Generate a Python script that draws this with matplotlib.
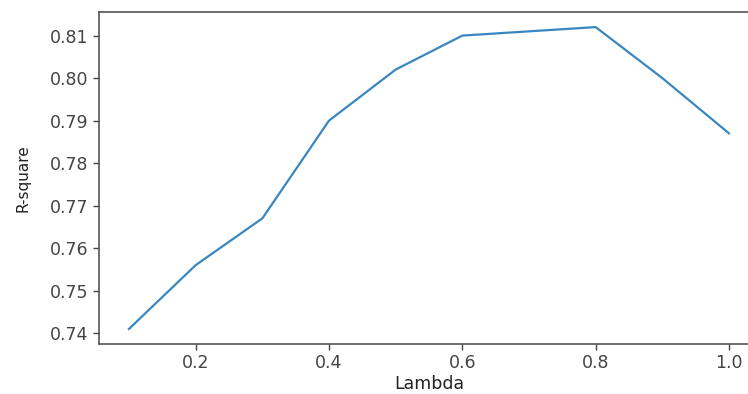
import matplotlib
matplotlib.use("Agg")
import matplotlib.pyplot as plt

lambdas = [0.1, 0.2, 0.3, 0.4, 0.5, 0.6, 0.7, 0.8, 0.9, 1.0]
r_square = [0.741, 0.756, 0.767, 0.790, 0.802, 0.810, 0.811, 0.812, 0.800, 0.787]
x_ticks = [0.2, 0.4, 0.6, 0.8, 1.0]
y_ticks = [0.74, 0.75, 0.76, 0.77, 0.78, 0.79, 0.80, 0.81]

fig = plt.figure(figsize=(7.48, 3.94), dpi=100)
ax = fig.add_axes([99/748, 1-344/394, 660/748, 332/394])
ax.plot(lambdas, r_square, color="#3a87c0", linewidth=1.6)
ax.set_xticks(x_ticks)
ax.set_yticks(y_ticks)
ax.set_xticklabels([f"{v:.1f}" for v in x_ticks])
ax.set_yticklabels([f"{v:.2f}" for v in y_ticks])
ax.tick_params(labelsize=12.5, colors="#444444", length=4, width=1)
ax.spines["right"].set_visible(False)
for s in ax.spines.values():
    s.set_color("#555555")
    s.set_linewidth(1.2)
ax.set_xlabel("Lambda", fontsize=12.5, color="#222222", labelpad=2)
ax.set_ylabel("R-square", fontsize=11, color="#222222", labelpad=14)
fig.savefig("out.png", dpi=100)
